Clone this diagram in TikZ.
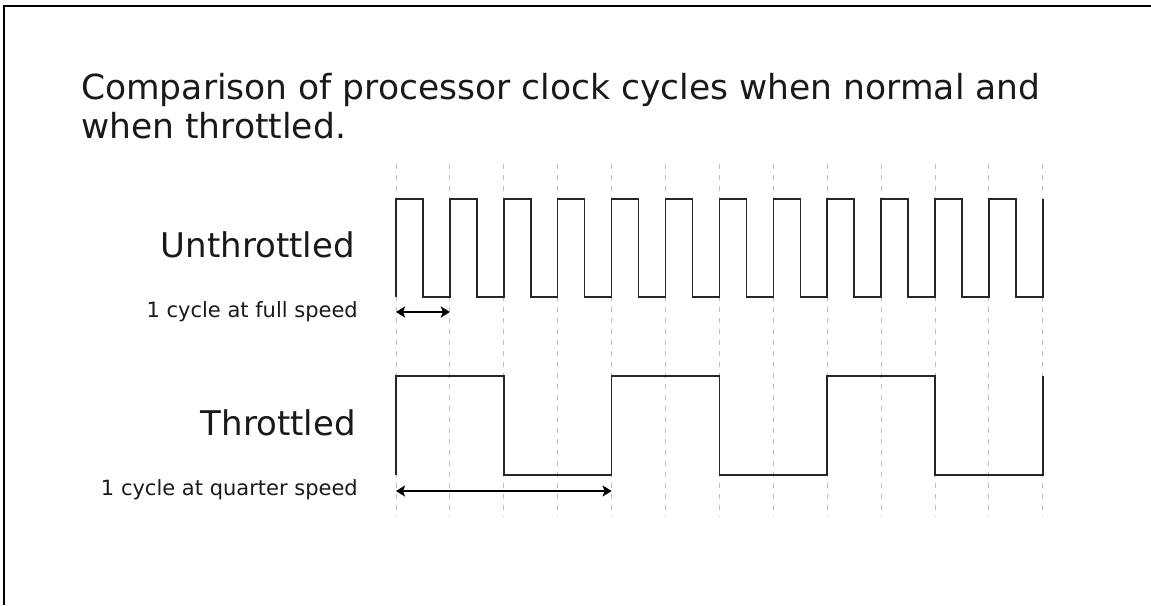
\documentclass[tikz,border=0pt]{standalone}
\usepackage{fontspec}
\setmainfont{DejaVu Sans}
\usetikzlibrary{arrows.meta,positioning,calc}

\begin{document}
\begin{tikzpicture}[
  x=1pt, y=-1pt,
  >=Latex,
  wave/.style={
    draw=black!85,
    line width=1.5pt,
    line join=miter
  },
  gridline/.style={
    draw=gray!50,
    line width=0.9pt,
    dash pattern=on 5pt off 6pt
  },
  span/.style={
    {Stealth[length=9pt,width=11pt,inset=2pt]}-{Stealth[length=9pt,width=11pt,inset=2pt]},
    draw=black,
    line width=2.4pt
  },
  bigtext/.style={
    font=\fontsize{34}{39}\selectfont,
    inner sep=0pt,
    text=black!90
  },
  smalltext/.style={
    font=\fontsize{21}{24}\selectfont,
    inner sep=0pt,
    text=black!90
  }
]
\useasboundingbox (0,0) rectangle (1151,605);

% Frame
\draw[line width=2pt] (4,605) -- (4,6) -- (1151,6);

% Clock grid
\foreach \i in {0,...,12}
  \draw[gridline] ({396+53.9*\i},164) -- ({396+53.9*\i},517);

% Title
\node[bigtext, font=\fontsize{34.5}{39}\selectfont, anchor=base west, align=left] (title) at (81,138)
  {Comparison of processor clock cycles when normal and\\when throttled.};

% Row labels
\node[bigtext, anchor=base east] (unthr) at (355,257) {Unthrottled};
\node[bigtext, anchor=base east] (thr) at (356,435) {Throttled};
\node[smalltext, anchor=base east] (fulllbl) at (358,317) {1 cycle at full speed};
\node[smalltext, anchor=base east] (quarterlbl) at (358,495) {1 cycle at quarter speed};

% Full speed clock
\draw[wave] (396,297)
  \foreach \i in {0,...,11} { -- ++(0,-98) -- ++(26.95,0) -- ++(0,98) -- ++(26.95,0) }
  -- ++(0,-98);

% Quarter speed clock
\draw[wave] (396,475)
  \foreach \i in {0,...,2} { -- ++(0,-99) -- ++(107.8,0) -- ++(0,99) -- ++(107.8,0) }
  -- ++(0,-99);

% Cycle spans
\coordinate (fullA) at (396,312);
\coordinate (fullB) at (449.9,312);
\coordinate (quarterA) at (396,491);
\coordinate (quarterB) at (611.6,491);
\draw[span] (fullA) -- (fullB);
\draw[span] (quarterA) -- (quarterB);

\end{tikzpicture}
\end{document}
